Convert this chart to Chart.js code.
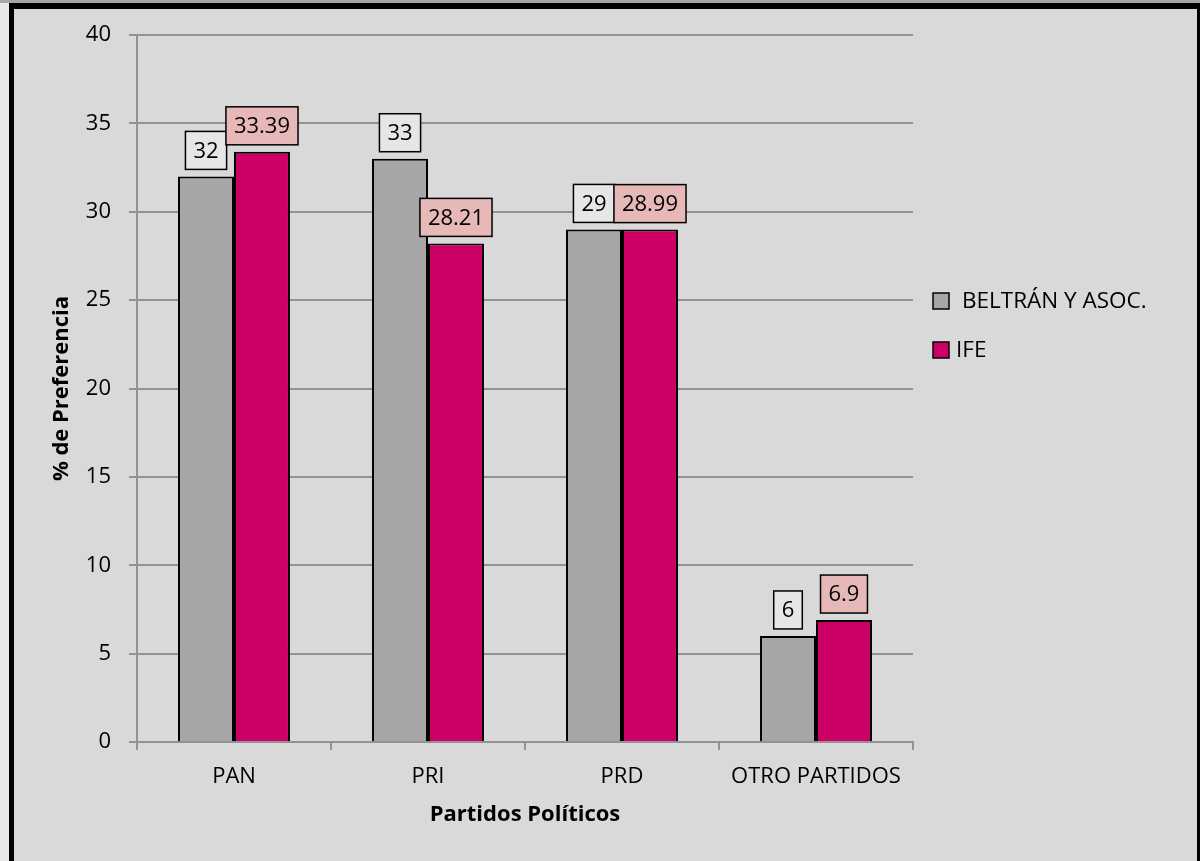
<!DOCTYPE html>
<html>
<head>
<meta charset="utf-8">
<script src="https://cdn.jsdelivr.net/npm/chart.js@4.4.1/dist/chart.umd.min.js"></script>
<style>
  html, body { margin: 0; padding: 0; background: #d9d9d9; }
  canvas { display: block; }
</style>
</head>
<body>
<canvas id="chart" width="1200" height="861"></canvas>
<script>
// Data
const categories = ['PAN', 'PRI', 'PRD', 'OTRO PARTIDOS'];
const seriesNames = ['BELTRÁN Y ASOC.', 'IFE'];
const beltranValues = [32, 33, 29, 6];
const ifeValues = [33.39, 28.21, 28.99, 6.9];
const yMin = 0, yMax = 40, yStep = 5;

const FONT = "'Open Sans', 'Noto Sans', sans-serif";
const barColors = ['#a6a6a6', '#cc0066'];
const labelFills = ['#e6e6e6', '#e6b9b8'];

// Background + black frame around the chart
const framePlugin = {
  id: 'frame',
  beforeDraw(chart) {
    const ctx = chart.ctx;
    ctx.save();
    ctx.fillStyle = '#d9d9d9';
    ctx.fillRect(0, 0, chart.width, chart.height);
    ctx.fillStyle = '#e8e8e8';
    ctx.fillRect(0, 0, 9, chart.height);
    ctx.fillStyle = '#a6a6a6';
    ctx.fillRect(0, 0, chart.width, 3);
    ctx.fillStyle = '#000';
    ctx.fillRect(9, 3, chart.width - 9, 6);
    ctx.fillRect(9, 3, 5, chart.height);
    ctx.fillRect(chart.width - 3, 3, 3, chart.height);
    ctx.restore();
  }
};

// Boxed value labels above each bar
const valueLabels = {
  id: 'valueLabels',
  afterDatasetsDraw(chart) {
    const ctx = chart.ctx;
    ctx.save();
    ctx.font = '22px ' + FONT;
    ctx.textAlign = 'center';
    ctx.textBaseline = 'middle';
    chart.data.datasets.forEach((ds, i) => {
      chart.getDatasetMeta(i).data.forEach((bar, j) => {
        const txt = String(ds.data[j]);
        const w = ctx.measureText(txt).width + 16;
        const h = 38;
        const bottom = bar.y - 7;
        const left = bar.x - w / 2;
        ctx.fillStyle = labelFills[i];
        ctx.fillRect(left, bottom - h, w, h);
        ctx.lineWidth = 1.5;
        ctx.strokeStyle = '#000';
        ctx.strokeRect(left, bottom - h, w, h);
        ctx.fillStyle = '#000';
        ctx.fillText(txt, bar.x, bottom - h / 2 + 1);
      });
    });
    ctx.restore();
  }
};

// Legend on the right, Excel style
const sideLegend = {
  id: 'sideLegend',
  afterDraw(chart) {
    const ctx = chart.ctx;
    const rows = [
      { y: 301, textX: 962 },
      { y: 350, textX: 956 }
    ];
    ctx.save();
    ctx.font = '22.5px ' + FONT;
    ctx.textAlign = 'left';
    ctx.textBaseline = 'middle';
    seriesNames.forEach((name, i) => {
      const r = rows[i];
      ctx.fillStyle = barColors[i];
      ctx.fillRect(933, r.y - 8, 16, 16);
      ctx.lineWidth = 1.5;
      ctx.strokeStyle = '#000';
      ctx.strokeRect(933, r.y - 8, 16, 16);
      ctx.fillStyle = '#000';
      ctx.fillText(name, r.textX, r.y + 1);
    });
    ctx.restore();
  }
};

const ctx = document.getElementById('chart').getContext('2d');
const chart = new Chart(ctx, {
  type: 'bar',
  data: {
    labels: categories,
    datasets: [
      {
        label: seriesNames[0],
        data: beltranValues,
        backgroundColor: barColors[0],
        borderColor: '#000',
        borderWidth: 2
      },
      {
        label: seriesNames[1],
        data: ifeValues,
        backgroundColor: barColors[1],
        borderColor: '#000',
        borderWidth: 2
      }
    ]
  },
  options: {
    responsive: false,
    animation: false,
    devicePixelRatio: 1,
    categoryPercentage: 0.577,
    barPercentage: 1,
    layout: { padding: { left: 49, top: 35, right: 287, bottom: 33 } },
    plugins: {
      legend: { display: false },
      tooltip: { enabled: false }
    },
    scales: {
      x: {
        afterFit(scale) { scale.height = 86; },
        grid: { drawOnChartArea: false, drawTicks: true, tickLength: 8, color: '#929292', lineWidth: 2, offset: true },
        border: { color: '#929292', width: 2 },
        ticks: { color: '#000', padding: 14, font: { family: FONT, size: 22 } },
        title: {
          display: true,
          text: 'Partidos Políticos',
          color: '#000',
          padding: { top: 0, bottom: 0 },
          font: { family: FONT, size: 22, weight: 'bold' }
        }
      },
      y: {
        min: yMin,
        max: yMax,
        afterFit(scale) { scale.width = 88; },
        grid: { color: '#929292', lineWidth: 2, tickLength: 8 },
        border: { color: '#929292', width: 2 },
        ticks: { stepSize: yStep, color: '#000', padding: 18, font: { family: FONT, size: 22 } },
        title: {
          display: true,
          text: '% de Preferencia',
          color: '#000',
          padding: { top: 0, bottom: 0 },
          font: { family: FONT, size: 22, weight: 'bold' }
        }
      }
    }
  },
  plugins: [framePlugin, valueLabels, sideLegend]
});
</script>
</body>
</html>
